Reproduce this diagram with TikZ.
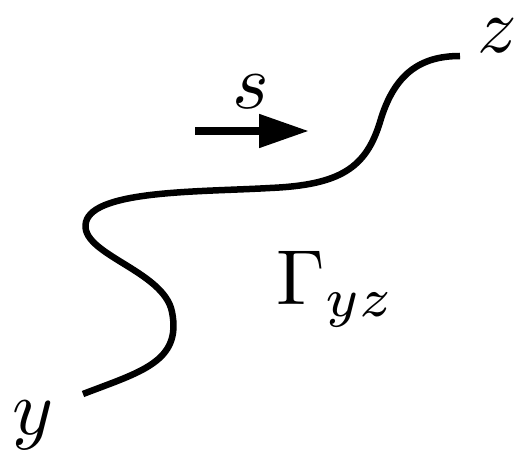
\documentclass[tikz,border=0pt]{standalone}
\usetikzlibrary{arrows.meta}

\begin{document}
\begin{tikzpicture}[
    x=1pt, y=-1pt,
    path/.style={line width=6.5pt},
    arr/.style={line width=8pt, -{Triangle[length=50pt, width=32pt]}},
    lbl/.style={scale=7.8, inner sep=0pt}
]
    \useasboundingbox (0,0) rectangle (522,457);
    % end points of the path
    \coordinate (ystart) at (83,394);
    \coordinate (zend) at (460,56);
    \node[lbl] (ylabel) at (33,425) {$y$};
    \node[lbl] (zlabel) at (497,36) {$z$};

    % the path from y to z
    \draw[path] (ystart)
        .. controls (140,372) and (182,362) .. (172,312)
        .. controls (164,270) and (78,254) .. (86,222)
        .. controls (94,190) and (200,192) .. (270,188)
        .. controls (340,185) and (366,168) .. (380,122)
        .. controls (394,74) and (420,56) .. (zend);

    % direction of s
    \coordinate (sfrom) at (195,131);
    \coordinate (sto) at (309,131);
    \draw[arr] (sfrom) -- (sto);
    \node[lbl] (slabel) at (251,92) {$s$};

    \node[lbl] (gamma) at (336,289) {$\Gamma_{yz}$};
\end{tikzpicture}
\end{document}
